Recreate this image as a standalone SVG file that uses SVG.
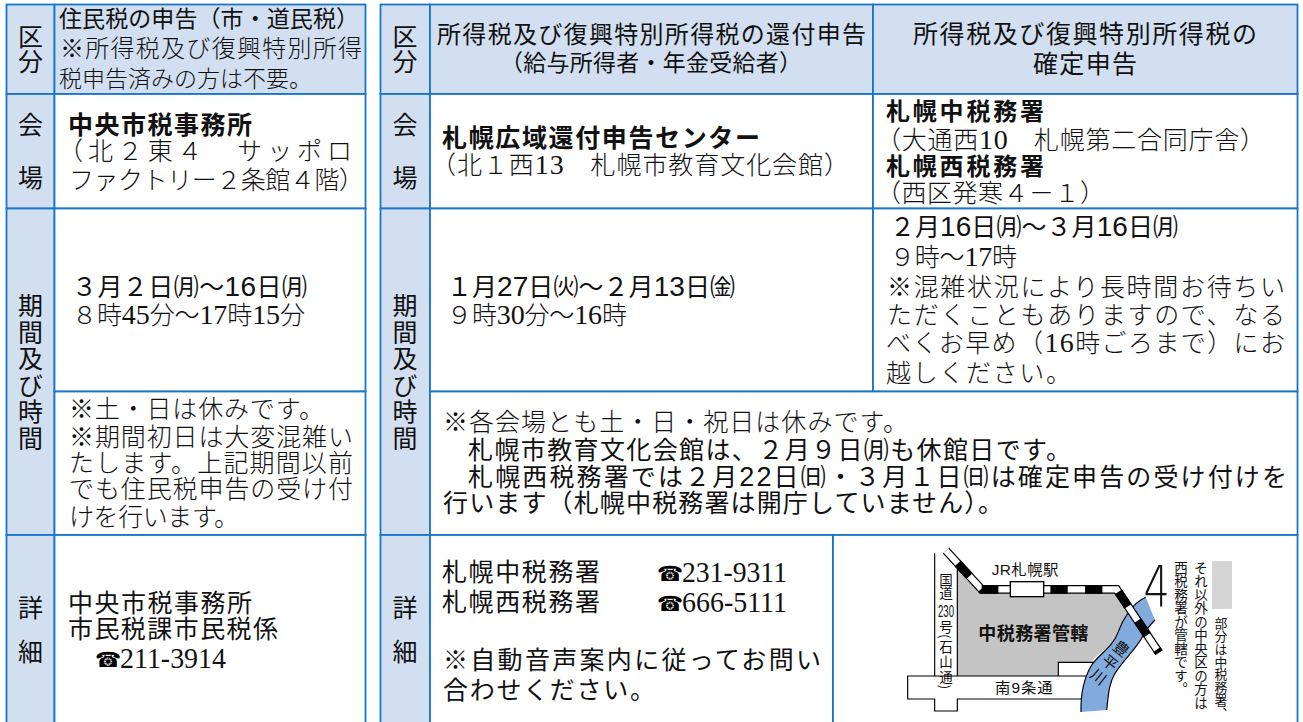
<svg xmlns="http://www.w3.org/2000/svg" width="1303" height="722" viewBox="0 0 1303 722">
<style>
.m{font-family:"Liberation Serif","Noto Sans CJK JP",sans-serif;font-weight:300;fill:#111}
.g{font-family:"Liberation Sans","Noto Sans CJK JP",sans-serif;font-weight:400;fill:#111}
.b{font-family:"Liberation Sans","Noto Sans CJK JP",sans-serif;font-weight:700;fill:#111}
.l{font-family:"Liberation Sans","Noto Sans CJK JP",sans-serif;font-size:25px;text-anchor:middle;fill:#111}
.lv{font-family:"Noto Sans CJK JP",sans-serif;font-size:25px;writing-mode:vertical-rl;fill:#111}
.h{fill:#d1dff0;stroke:#1777cc;stroke-width:1.8}
.c{fill:#fff;stroke:#1777cc;stroke-width:1.8}
.s23{font-size:23px}.s24{font-size:24px}.s25{font-size:25px}
.n{font-size:28px}
.t{font-family:"DejaVu Sans","Noto Sans CJK JP",sans-serif;font-size:21px;font-weight:700;fill:#000}
.p{font-family:"Liberation Serif",serif;font-size:29px;fill:#111}
.v{writing-mode:vertical-rl;font-family:"Noto Sans CJK JP",sans-serif;font-size:13.5px;fill:#111}
.mt{font-family:"Liberation Sans","Noto Sans CJK JP",sans-serif;font-size:46px;fill:#111}
.road{fill:none;stroke:#000;stroke-width:3.5}
</style>
<rect width="1303" height="722" fill="#fff"/>

<g id="left-header">
<rect class="h" x="6.5" y="4.5" width="48" height="89.5"/>
<rect class="h" x="54.5" y="4.5" width="311" height="89.5"/>
<text class="lv" x="30.5" y="24">区分</text>
<text class="g s23" x="59" y="27" textLength="300">住民税の申告（市・道民税）</text>
<text class="m s24" x="60" y="57" textLength="302">※所得税及び復興特別所得</text>
<text class="m s23" x="59" y="87" textLength="253">税申告済みの方は不要。</text>
</g>
<g id="left-venue">
<rect class="h" x="6.5" y="94" width="48" height="114.5"/>
<rect class="c" x="54.5" y="94" width="311" height="114.5"/>
<text class="l" x="30.5" y="134">会</text><text class="l" x="30.5" y="187">場</text>
<text class="b s25" x="68" y="134" textLength="184">中央市税事務所</text>
<text class="m s25" x="58" y="160" textLength="294">（北２東４　サッポロ</text>
<text class="m s25" x="69" y="189" textLength="295">ファクトリー２条館４階）</text>
</g>
<g id="left-period">
<rect class="h" x="6.5" y="208.5" width="48" height="326.5"/>
<rect class="c" x="54.5" y="208.5" width="311" height="183"/>
<rect class="c" x="54.5" y="391.5" width="311" height="143.5"/>
<text class="lv" x="30.5" y="293" letter-spacing="1.6">期間及び時間</text>
<text class="g s25" x="72" y="296" textLength="235">３月２日㈪～<tspan class="n">16</tspan>日㈪</text>
<text class="m s25" x="72" y="324" textLength="233">８時<tspan class="n">45</tspan>分～<tspan class="n">17</tspan>時<tspan class="n">15</tspan>分</text>
<text class="m s25" x="69" y="418" textLength="255">※土・日は休みです。</text>
<text class="m s25" x="69" y="446" textLength="284">※期間初日は大変混雑い</text>
<text class="m s25" x="69" y="472" textLength="284">たします。上記期間以前</text>
<text class="m s25" x="69" y="498" textLength="284">でも住民税申告の受け付</text>
<text class="m s25" x="69" y="526" textLength="170">けを行います。</text>
</g>
<g id="left-detail">
<rect class="h" x="6.5" y="535" width="48" height="190"/>
<rect class="c" x="54.5" y="535" width="311" height="190"/>
<text class="l" x="30.5" y="617">詳</text><text class="l" x="30.5" y="661">細</text>
<text class="g s25" x="68" y="612" textLength="184">中央市税事務所</text>
<text class="g s25" x="68" y="638" textLength="210">市民税課市民税係</text>
<text class="t" x="95" y="667">☎</text>
<text class="p" x="120" y="668" textLength="106" lengthAdjust="spacingAndGlyphs">211-3914</text>
</g>

<g id="right-header">
<rect class="h" x="380.5" y="4.5" width="49.5" height="89.5"/>
<rect class="h" x="430" y="4.5" width="443" height="89.5"/>
<rect class="h" x="873" y="4.5" width="424.5" height="89.5"/>
<text class="lv" x="405" y="24">区分</text>
<text class="g s24" x="437" y="43" textLength="429">所得税及び復興特別所得税の還付申告</text>
<text class="g s23" x="500" y="71" textLength="302">（給与所得者・年金受給者）</text>
<text class="g s25" x="913" y="43" textLength="344">所得税及び復興特別所得税の</text>
<text class="g s25" x="1033" y="73" textLength="104">確定申告</text>
</g>
<g id="right-venue">
<rect class="h" x="380.5" y="94" width="49.5" height="114.5"/>
<rect class="c" x="430" y="94" width="443" height="114.5"/>
<rect class="c" x="873" y="94" width="424.5" height="114.5"/>
<text class="l" x="405" y="134">会</text><text class="l" x="405" y="187">場</text>
<text class="b s25" x="442" y="147" textLength="318">札幌広域還付申告センター</text>
<text class="m s25" x="431" y="174" textLength="418">（北１西<tspan class="n">13</tspan>　札幌市教育文化会館）</text>
<text class="b s24" x="886" y="120" textLength="158">札幌中税務署</text>
<text class="m s25" x="876" y="149" textLength="389">（大通西<tspan class="n">10</tspan>　札幌第二合同庁舎）</text>
<text class="b s24" x="886" y="175" textLength="158">札幌西税務署</text>
<text class="m s25" x="876" y="202" textLength="229">（西区発寒４－１）</text>
</g>
<g id="right-period">
<rect class="h" x="380.5" y="208.5" width="49.5" height="326.5"/>
<rect class="c" x="430" y="208.5" width="443" height="183"/>
<rect class="c" x="873" y="208.5" width="424.5" height="183"/>
<rect class="c" x="430" y="391.5" width="867.5" height="143.5"/>
<text class="lv" x="405" y="293" letter-spacing="1.6">期間及び時間</text>
<text class="g s25" x="447" y="296" textLength="288">１月<tspan class="n">27</tspan>日㈫～２月<tspan class="n">13</tspan>日㈮</text>
<text class="m s25" x="447" y="324" textLength="180">９時<tspan class="n">30</tspan>分～<tspan class="n">16</tspan>時</text>
<text class="g s25" x="890" y="236" textLength="288">２月<tspan class="n">16</tspan>日㈪～３月<tspan class="n">16</tspan>日㈪</text>
<text class="m s25" x="890" y="266" textLength="127">９時～<tspan class="n">17</tspan>時</text>
<text class="m s25" x="887" y="296" textLength="398">※混雑状況により長時間お待ちい</text>
<text class="m s25" x="887" y="324" textLength="398">ただくこともありますので、なる</text>
<text class="m s25" x="886" y="352" textLength="399">べくお早め（<tspan class="n">16</tspan>時ごろまで）にお</text>
<text class="m s25" x="886" y="382" textLength="185">越しください。</text>
<text class="m s25" x="443" y="431" textLength="465">※各会場とも土・日・祝日は休みです。</text>
<text class="g s25" x="468" y="459" textLength="603">札幌市教育文化会館は、２月９日㈪も休館日です。</text>
<text class="g s25" x="468" y="486" textLength="819">札幌西税務署では２月<tspan font-size="27">22</tspan>日㈰・３月１日㈰は確定申告の受け付けを</text>
<text class="g s25" x="443" y="512" textLength="560">行います（札幌中税務署は開庁していません）。</text>
</g>
<g id="right-detail">
<rect class="h" x="380.5" y="535" width="49.5" height="190"/>
<rect class="c" x="430" y="535" width="403" height="190"/>
<rect class="c" x="833" y="535" width="464.5" height="190"/>
<text class="l" x="405" y="617">詳</text><text class="l" x="405" y="661">細</text>
<text class="g s25" x="442" y="581" textLength="158">札幌中税務署</text>
<text class="t" x="657" y="581">☎</text>
<text class="p" x="682" y="582" textLength="105" lengthAdjust="spacingAndGlyphs">231-9311</text>
<text class="g s25" x="442" y="611" textLength="158">札幌西税務署</text>
<text class="t" x="657" y="611">☎</text>
<text class="p" x="682" y="612" textLength="105" lengthAdjust="spacingAndGlyphs">666-5111</text>
<text class="g s25" x="443" y="669" textLength="378">※自動音声案内に従ってお問い</text>
<text class="g s25" x="443" y="699" textLength="212">合わせください。</text>
</g>

<g id="map" transform="translate(860 510) scale(.33333)">
<path d="M292 165L360 248H770L810 305C790 340 780 375 760 395C730 425 700 440 695 457H595V498H292Z" fill="#c4c4c4"/>
<path class="road" d="M292 165V498H143V567H224V603H292V567H665M224 130V498M292 498H680M595 498V457H705"/>
<path d="M857 262L885 330C870 345 855 365 845 385C825 420 790 450 765 490C745 525 745 560 740 600L663 606C662 560 668 510 695 465C720 430 760 410 775 365C785 335 815 280 857 262Z" fill="#81abdd"/>
<path class="road" d="M857 262C815 280 785 335 775 365C760 410 720 430 695 465C668 510 662 560 663 606M885 330C870 345 855 365 845 385C825 420 790 450 765 490C745 525 745 560 740 600"/>
<path d="M258 122L365 238H770L897 428" fill="none" stroke="#000" stroke-width="26"/>
<path d="M258 122L365 238H770L897 428" fill="none" stroke="#fff" stroke-width="19"/>
<path d="M258 122L365 238H770L897 428" fill="none" stroke="#000" stroke-width="26" stroke-dasharray="52 52" stroke-dashoffset="52"/>
<rect x="451" y="215" width="100" height="45" fill="#fff" stroke="#000" stroke-width="4"/>
<text class="mt" x="395" y="195" textLength="200">JR札幌駅</text>
<text class="b" font-size="54" x="355" y="390" textLength="330">中税務署管轄</text>
<text class="mt" x="405" y="550" textLength="173">南9条通</text>
<text transform="translate(890 292) scale(.72 1)" font-family="DejaVu Sans" font-weight="200" font-size="172" text-anchor="middle" fill="#111">4</text>
<text class="mt" writing-mode="vertical-rl" letter-spacing="8" transform="translate(795 395) rotate(39)" font-size="46">豊平川</text>
<rect x="1056" y="153" width="60" height="144" fill="#d4d4d4"/>
</g>
<g id="map-vertical-text">
<text class="v" x="946" y="573">国道</text>
<text class="g" x="938" y="617" font-size="17" textLength="16" lengthAdjust="spacingAndGlyphs">230</text>
<text class="v" x="946" y="620">号</text>
<text class="v" x="946" y="634" letter-spacing="1.4">(石山通)</text>
<text class="v" x="1221" y="617" font-size="12.8" style="font-size:12.8px">部分は中税務署、</text>
<text class="v" x="1201" y="561">それ以外の中央区の方は</text>
<text class="v" x="1181" y="561">西税務署が管轄です。</text>
</g>
</svg>
